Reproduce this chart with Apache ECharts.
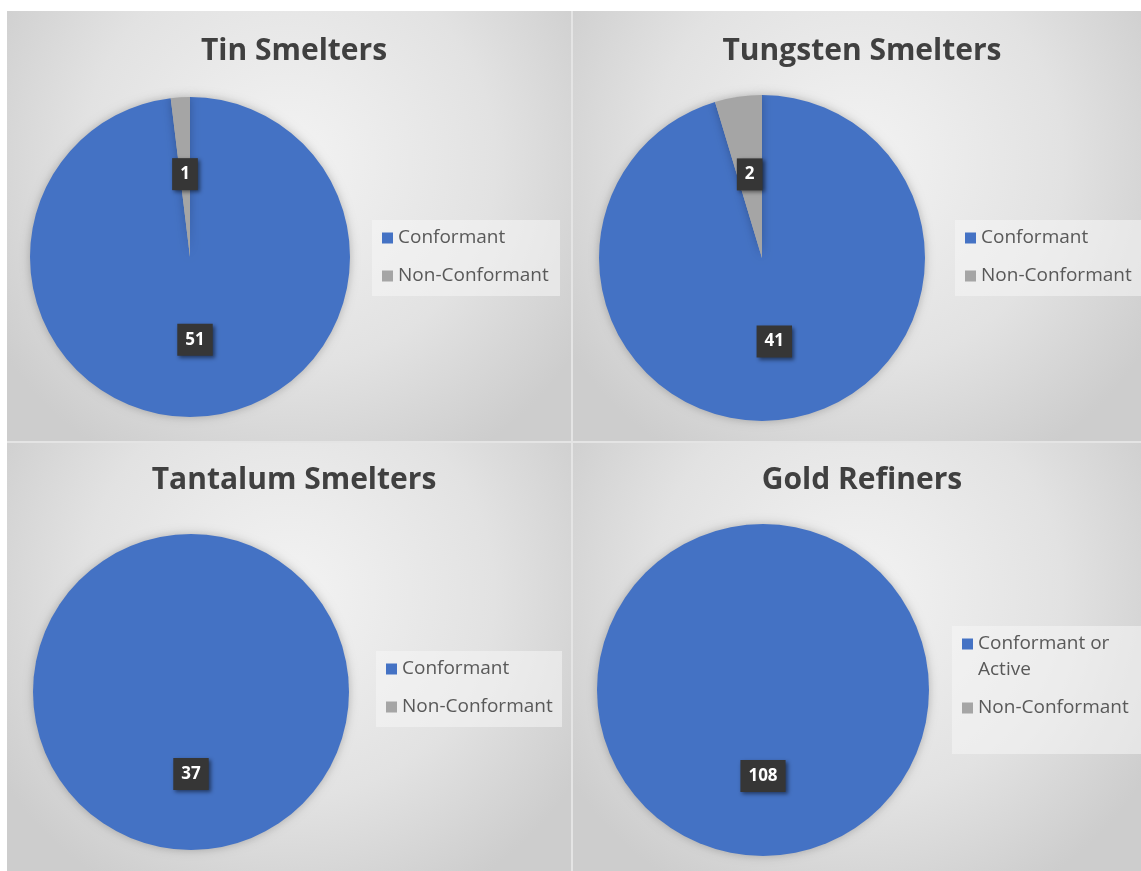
<!DOCTYPE html>
<html><head><meta charset="utf-8">
<script src="https://cdn.jsdelivr.net/npm/echarts/dist/echarts.min.js"></script>
<style>html,body{margin:0;padding:0;background:#fff;} #main{width:1141px;height:871px;}</style>
</head><body><div id="main"></div>
<script>
// ---- data ----
const titles = ['Tin Smelters', 'Tungsten Smelters', 'Tantalum Smelters', 'Gold Refiners'];
const categories = ['Conformant', 'Non-Conformant'];
const goldCategories = ['Conformant or Active', 'Non-Conformant'];
const tinValues = [51, 1];
const tungstenValues = [41, 2];
const tantalumValues = [37, 0];
const goldValues = [108, 0];

// ---- layout / styles ----
const colors = ['#4472c4', '#a5a5a5'];
const panels = [
  {x: 7, y: 11, w: 564, h: 430, cx: 190, cy: 257, r: 160, ty: 31, lg: {x: 372, y: 220, w: 188, h: 76}, cats: categories, vals: tinValues},
  {x: 573, y: 11, w: 568, h: 430, cx: 762, cy: 258, r: 163, ty: 31, lg: {x: 955, y: 220, w: 186, h: 76}, cats: categories, vals: tungstenValues},
  {x: 7, y: 443, w: 564, h: 428, cx: 191, cy: 692, r: 158, ty: 460, lg: {x: 376, y: 651, w: 186, h: 76}, cats: categories, vals: tantalumValues},
  {x: 573, y: 443, w: 568, h: 428, cx: 763, cy: 690, r: 166, ty: 460, lg: {x: 952, y: 626, w: 189, h: 128}, cats: goldCategories, vals: goldValues, gold: true}
];

const graphic = [{
  type: 'rect', silent: true, z: -11,
  shape: {x: 7, y: 11, width: 1134, height: 860},
  style: {fill: '#e4e4e4'}
}];
panels.forEach(p => {
  graphic.push({
    type: 'rect', silent: true, z: -10,
    shape: {x: p.x, y: p.y, width: p.w, height: p.h},
    style: {
      fill: new echarts.graphic.RadialGradient(0.5, 0.35, 0.8, [
        {offset: 0, color: '#f3f3f3'},
        {offset: 0.6, color: '#e2e2e2'},
        {offset: 1, color: '#cdcdcd'}
      ])
    }
  });
  graphic.push({
    type: 'rect', silent: true, z: -9,
    shape: {x: p.lg.x, y: p.lg.y, width: p.lg.w, height: p.lg.h},
    style: {fill: 'rgba(245,245,245,0.55)'}
  });
});

const title = panels.map((p, i) => ({
  text: titles[i],
  left: p.x + p.w / 2,
  top: p.ty,
  textAlign: 'center',
  textStyle: {fontFamily: 'Open Sans', fontWeight: 'bold', fontSize: 30, color: '#404040'}
}));

const legend = panels.map(p => {
  const base = {
    orient: 'vertical',
    left: p.lg.x + 10,
    data: p.cats,
    icon: 'rect',
    itemWidth: 11,
    itemHeight: 11,
    padding: 0,
    selectedMode: false,
    textStyle: {fontFamily: 'Open Sans', fontSize: 19, color: '#595959'}
  };
  if (p.gold) {
    base.top = 644 - 39;
    base.itemGap = 12;
    base.textStyle.lineHeight = 26;
    base.formatter = n => n === 'Conformant or Active' ? ' \nConformant or\nActive' : n;
  } else {
    base.top = p.lg.y + 8;
    base.itemGap = 18;
    base.textStyle.lineHeight = 20;
  }
  return base;
});

const series = panels.map(p => ({
  type: 'pie',
  center: [p.cx, p.cy],
  radius: [0, p.r],
  startAngle: 90,
  clockwise: true,
  avoidLabelOverlap: false,
  silent: true,
  data: p.cats.map((c, k) => ({
    name: c,
    value: p.vals[k],
    itemStyle: {color: colors[k]},
    label: {show: p.vals[k] > 0}
  })),
  itemStyle: {shadowBlur: 10, shadowColor: 'rgba(0,0,0,0.25)'},
  label: {
    position: 'inside',
    formatter: '{c}',
    color: '#fff',
    fontFamily: 'Open Sans',
    fontWeight: 'bold',
    fontSize: 17,
    lineHeight: 20,
    backgroundColor: '#363636',
    padding: [6, 8],
    shadowBlur: 4,
    shadowColor: 'rgba(0,0,0,0.5)',
    shadowOffsetX: 2,
    shadowOffsetY: 2
  },
  labelLine: {show: false}
}));

const chart = echarts.init(document.getElementById('main'));
chart.setOption({
  backgroundColor: '#ffffff',
  animation: false,
  title: title,
  legend: legend,
  graphic: graphic,
  series: series
});
</script>
</body></html>
